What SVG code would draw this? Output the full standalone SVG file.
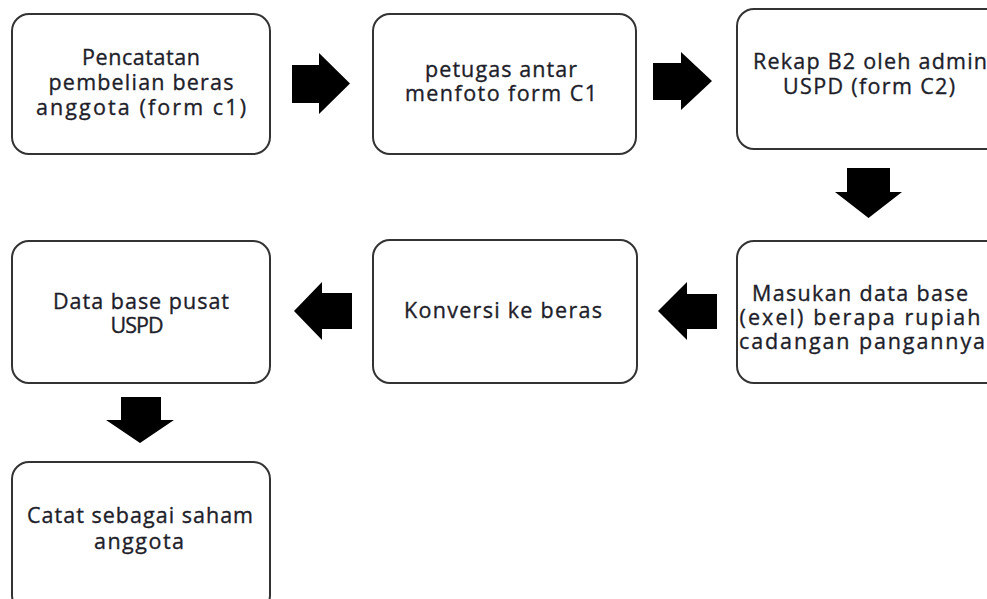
<svg xmlns="http://www.w3.org/2000/svg" width="987" height="599" viewBox="0 0 987 599">
<style>
.box{fill:#fff;stroke:#333;stroke-width:2}
.t{font-family:"Open Sans","DejaVu Sans",sans-serif;font-size:21.5px;fill:#1e1e2a;stroke:#1e1e2a;stroke-width:0.35;text-anchor:middle}
.arr{fill:#000}
</style>
<rect width="987" height="599" fill="#fff"/>
<g id="n1">
<rect class="box" x="12" y="14" width="258" height="140" rx="17"/>
<text class="t" x="141" y="65" textLength="118" lengthAdjust="spacing">Pencatatan</text>
<text class="t" x="141" y="90" textLength="185" lengthAdjust="spacing">pembelian beras</text>
<text class="t" x="141" y="115" textLength="210" lengthAdjust="spacing">anggota (form  c1)</text>
</g>
<g id="n2">
<rect class="box" x="373" y="14" width="263" height="140" rx="17"/>
<text class="t" x="501" y="77" textLength="152" lengthAdjust="spacing">petugas antar</text>
<text class="t" x="501" y="101" textLength="192" lengthAdjust="spacing">menfoto form C1</text>
</g>
<g id="n3">
<rect class="box" x="737" y="9" width="268" height="140" rx="17"/>
<text class="t" x="870" y="69" textLength="234" lengthAdjust="spacing">Rekap B2 oleh admin</text>
<text class="t" x="869" y="94" textLength="172" lengthAdjust="spacing">USPD (form C2)</text>
</g>
<g id="n4">
<rect class="box" x="737" y="241" width="268" height="142" rx="17"/>
<text class="t" x="860" y="301" textLength="216" lengthAdjust="spacing">Masukan data base</text>
<text class="t" x="860" y="325" textLength="241" lengthAdjust="spacing">(exel) berapa rupiah</text>
<text class="t" x="862" y="349" textLength="246" lengthAdjust="spacing">cadangan pangannya</text>
</g>
<g id="n5">
<rect class="box" x="373" y="240" width="264" height="143" rx="17"/>
<text class="t" x="503" y="318" textLength="198" lengthAdjust="spacing">Konversi ke beras</text>
</g>
<g id="n6">
<rect class="box" x="12" y="241" width="258" height="142" rx="17"/>
<text class="t" x="141" y="309" textLength="176" lengthAdjust="spacing">Data base pusat</text>
<text class="t" x="137" y="333" textLength="53" lengthAdjust="spacing">USPD</text>
</g>
<g id="n7">
<rect class="box" x="12" y="462" width="258" height="150" rx="17"/>
<text class="t" x="140" y="523" textLength="226" lengthAdjust="spacing">Catat sebagai saham</text>
<text class="t" x="139" y="549" textLength="90" lengthAdjust="spacing">anggota</text>
</g>
<g id="connectors">
<path class="arr" d="M292,65 H319 V53 L350,83.5 L319,114 V103 H292 Z"/>
<path class="arr" d="M653,63 H681 V52 L712,81 L681,110 V100 H653 Z"/>
<path class="arr" d="M847,168 H890 V192 H902 L868.5,218 L835,192 H847 Z"/>
<path class="arr" d="M717,294 H687 V282 L658,311 L687,340 V329 H717 Z"/>
<path class="arr" d="M352,293 H322 V282 L294,311 L322,340 V329 H352 Z"/>
<path class="arr" d="M121,397 H161 V420 H174 L140,443 L106,420 H121 Z"/>
</g>
</svg>
